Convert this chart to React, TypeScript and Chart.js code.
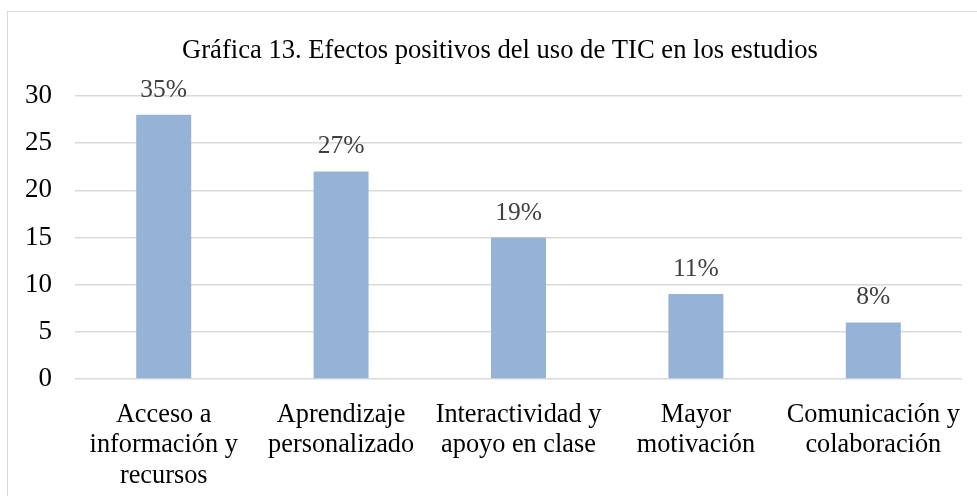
import React, { useEffect, useRef } from "react";
import { Chart, registerables } from "chart.js";

Chart.register(...registerables);

const title = "Gráfica 13. Efectos positivos del uso de TIC en los estudios";
const categories: string[][] = [
  ["Acceso a", "información y", "recursos"],
  ["Aprendizaje", "personalizado"],
  ["Interactividad y", "apoyo en clase"],
  ["Mayor", "motivación"],
  ["Comunicación y", "colaboración"],
];
const values: number[] = [28, 22, 15, 9, 6];
const percentLabels: string[] = ["35%", "27%", "19%", "11%", "8%"];
const yTicks = { min: 0, max: 30, step: 5 };

const FONT = '"Liberation Serif", "Times New Roman", serif';
const W = 977;
const H = 496;

const framePlugin = {
  id: "frame",
  beforeDraw(chart: any) {
    const ctx = chart.ctx;
    ctx.save();
    ctx.fillStyle = "#ffffff";
    ctx.fillRect(0, 0, W, H);
    ctx.strokeStyle = "#d9d9d9";
    ctx.lineWidth = 1;
    ctx.strokeRect(7.5, 11.5, 1200, 800);
    ctx.restore();
  },
  afterDraw(chart: any) {
    const ctx = chart.ctx;
    ctx.save();
    ctx.fillStyle = "#000000";
    ctx.font = `26.6px ${FONT}`;
    ctx.textAlign = "center";
    ctx.textBaseline = "alphabetic";
    ctx.fillText(title, 500, 58);
    ctx.restore();
  },
};

const dataLabelPlugin = {
  id: "dataLabels",
  afterDatasetsDraw(chart: any) {
    const ctx = chart.ctx;
    const meta = chart.getDatasetMeta(0);
    ctx.save();
    ctx.fillStyle = "#404040";
    ctx.font = `25.5px ${FONT}`;
    ctx.textAlign = "center";
    ctx.textBaseline = "alphabetic";
    meta.data.forEach((bar: any, i: number) => {
      ctx.fillText(percentLabels[i], bar.x, bar.y - 18);
    });
    ctx.restore();
  },
};

export default function App() {
  const ref = useRef<HTMLCanvasElement | null>(null);

  useEffect(() => {
    if (!ref.current) return;
    const chart = new Chart(ref.current, {
      type: "bar",
      data: {
        labels: categories,
        datasets: [
          {
            data: values,
            backgroundColor: "#95b3d7",
            borderWidth: 0,
            barPercentage: 0.31,
            categoryPercentage: 1,
          },
        ],
      },
      options: {
        responsive: false,
        animation: false,
        events: [],
        layout: { padding: { top: 96, right: 15, bottom: 0, left: 0 } },
        plugins: {
          legend: { display: false },
          title: { display: false },
          tooltip: { enabled: false },
        },
        scales: {
          x: {
            grid: { display: false },
            border: { display: false },
            ticks: {
              color: "#000000",
              font: { family: FONT, size: 26.3, lineHeight: 1.15 },
              padding: 13,
              maxRotation: 0,
              autoSkip: false,
            },
            afterFit(scale: any) {
              scale.height = H - 379;
            },
          },
          y: {
            min: yTicks.min,
            max: yTicks.max,
            border: { display: false },
            grid: { color: "#d9d9d9", lineWidth: 1.5, drawTicks: false },
            ticks: {
              stepSize: yTicks.step,
              color: "#000000",
              font: { family: FONT, size: 27 },
              padding: 23,
            },
            afterFit(scale: any) {
              scale.width = 75;
            },
          },
        },
      },
      plugins: [framePlugin, dataLabelPlugin],
    });
    return () => chart.destroy();
  }, []);

  return (
    <div style={{ position: "fixed", left: 0, top: 0, width: W, height: H, background: "#fff" }}>
      <canvas ref={ref} width={W} height={H} style={{ display: "block", width: W, height: H }} />
    </div>
  );
}
